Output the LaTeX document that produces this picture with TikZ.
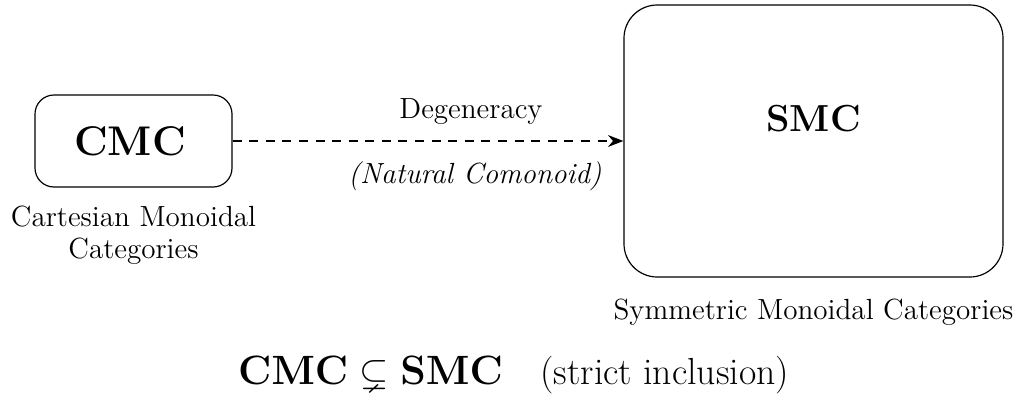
\documentclass[tikz,border=0pt]{standalone}
\usepackage{amssymb}
\usetikzlibrary{arrows.meta}
\begin{document}
\begin{tikzpicture}[x=0.01483cm, y=-0.01483cm,
  catbox/.style={draw, line width=0.5pt, rounded corners=#1, inner sep=0pt},
  note/.style={inner sep=0pt, align=center, anchor=base, font=\fontsize{12.3}{13.1}\selectfont},
  degarrow/.style={dash pattern=on 3.8pt off 3.2pt, line width=0.8pt, -{Stealth[length=6.5pt, width=5pt]}}]
\useasboundingbox (0,0) rectangle (1021,400);
\node[catbox=8pt, minimum width=197*0.422pt, minimum height=92*0.422pt] (cmcbox) at (133.5,141) {};
\node[inner sep=0pt, anchor=base, font=\fontsize{17.5}{20}\selectfont\bfseries] (cmc) at (130,155) {CMC};
\node[catbox=14pt, minimum width=379*0.422pt, minimum height=272*0.422pt] (smc) at (813.5,141) {};
\node[inner sep=0pt, anchor=base, font=\fontsize{15.9}{19}\selectfont\bfseries] (smclabel) at (813.5,131) {SMC};
\draw[degarrow] (cmcbox.east) -- (smc.west);
\node[note] (deg) at (471,118) {Degeneracy};
\node[note, font=\fontsize{12.3}{13.1}\selectfont\itshape] (nat) at (475,183) {(Natural Comonoid)};
\node[note] (cart) at (133.5,258) {Cartesian Monoidal\\Categories};
\node[note] (sym) at (813.5,319) {Symmetric Monoidal Categories};
\node[inner sep=0pt, anchor=base, font=\fontsize{15.9}{19}\selectfont] (incl) at (513.5,384) {$\mathbf{CMC} \subsetneq \mathbf{SMC}$\quad(strict inclusion)};
\end{tikzpicture}
\end{document}
